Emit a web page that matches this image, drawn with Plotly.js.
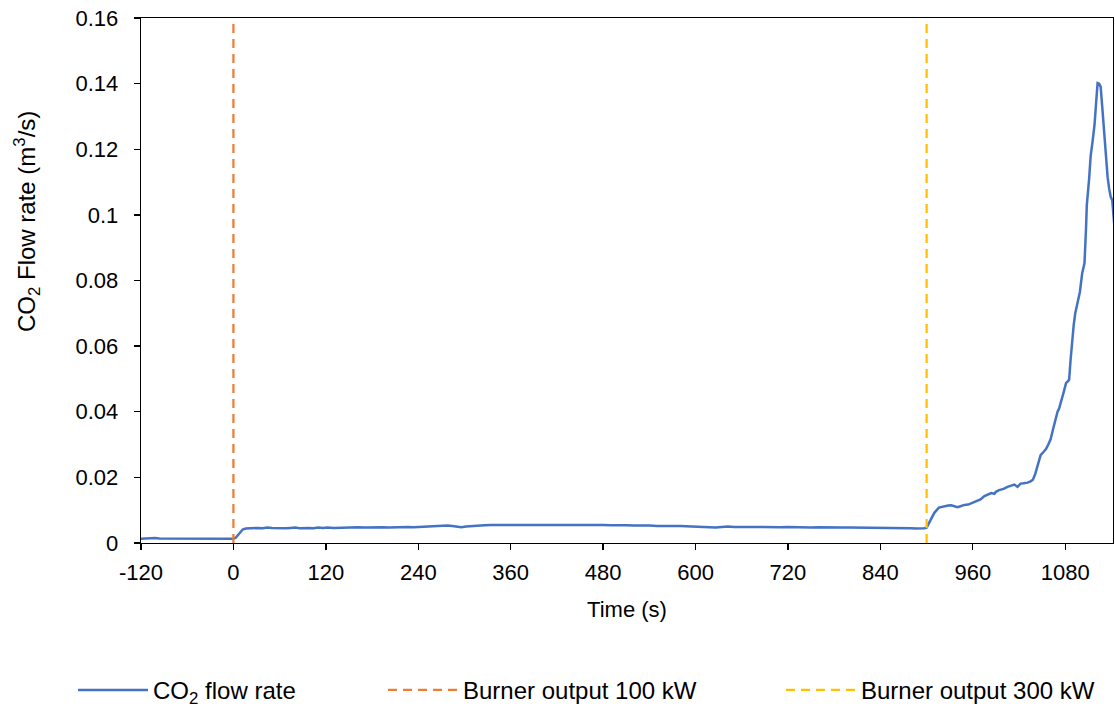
<!DOCTYPE html>
<html>
<head>
<meta charset="utf-8">
<script src="https://cdn.plot.ly/plotly-3.0.1.min.js"></script>
<style>html,body{margin:0;padding:0;background:#fff;}#chart{width:1115px;height:711px;}</style>
</head>
<body>
<div id="chart"></div>
<script>
// Time (s)
const time = [-120,-114,-108,-102,-96,-90,-84,-78,-72,-66,-60,-54,-48,-42,-36,-30,-24,-18,-12,-6,0,
  3,6,9,12,16,20,26,32,38,44,50,56,62,68,74,80,86,92,98,104,110,116,122,130,138,146,154,162,170,178,186,194,202,210,218,226,234,242,250,258,266,272,278,284,290,296,302,310,318,326,334,342,350,360,370,380,390,400,410,420,430,440,450,460,470,480,490,500,510,520,530,540,550,560,570,580,590,600,610,618,626,634,642,650,660,670,680,690,700,710,720,730,740,750,760,770,780,790,800,810,820,830,840,850,860,870,880,886,892,897,900,
  905,910,916,922,928,932,936,940,944,949,954,958,962,966,970,975,980,984,988,990,994,1000,1005,1010,1014,1018,1022,1026,1031,1035,1038,1041,1044,1048,1052,1055,1058,1061,1064,1066,1068,1070,1072,1075,1078,1081,1083,1085,1087,1089,1091,1093,1096,1099,1102,1105,1107,1108,1111,1113,1115,1118,1120,1122,1124,1126,1128,1131,1133,1135,1137,1139,1141,1144];
// CO2 flow rate (m3/s)
const co2Flow = [0.0013,0.0014,0.0013,0.0015,0.0014,0.0014,0.0013,0.0014,0.0012,0.0013,0.0012,0.0014,0.0013,0.0012,0.0014,0.0013,0.0014,0.0013,0.0012,0.0014,0.0013,
  0.0016,0.0025,0.0035,0.0041,0.0044,0.0045,0.0046,0.0046,0.0045,0.0047,0.0046,0.0045,0.0046,0.0045,0.0046,0.0047,0.0045,0.0046,0.0046,0.0045,0.0047,0.0046,0.0047,0.0046,0.0047,0.0048,0.0047,0.0048,0.0047,0.0048,0.0047,0.0048,0.0047,0.0048,0.0048,0.0049,0.0048,0.0049,0.0049,0.0050,0.0052,0.0054,0.0053,0.0052,0.0049,0.0048,0.0050,0.0052,0.0054,0.0054,0.0055,0.0054,0.0055,0.0055,0.0055,0.0056,0.0056,0.0056,0.0056,0.0057,0.0056,0.0056,0.0056,0.0056,0.0056,0.0055,0.0054,0.0055,0.0054,0.0053,0.0054,0.0053,0.0052,0.0053,0.0052,0.0052,0.0051,0.0052,0.0050,0.0048,0.0047,0.0049,0.0050,0.0049,0.0048,0.0049,0.0049,0.0048,0.0049,0.0048,0.0049,0.0048,0.0049,0.0047,0.0048,0.0047,0.0047,0.0047,0.0047,0.0047,0.0047,0.0046,0.0047,0.0047,0.0047,0.0046,0.0045,0.0044,0.0044,0.0045,0.0047,
  0.0070,0.0092,0.0108,0.0112,0.0114,0.0115,0.0113,0.0109,0.0112,0.0116,0.0117,0.0121,0.0126,0.0131,0.0133,0.0143,0.0148,0.0152,0.0150,0.0156,0.0161,0.0165,0.0171,0.0174,0.0178,0.0171,0.0181,0.0182,0.0184,0.0188,0.0193,0.0210,0.0238,0.0268,0.0278,0.0286,0.0300,0.0316,0.0345,0.0362,0.0385,0.0400,0.0410,0.0440,0.0460,0.0487,0.0492,0.0497,0.0560,0.0619,0.0665,0.0700,0.0731,0.0765,0.0822,0.0853,0.0960,0.1030,0.1110,0.1180,0.1215,0.1274,0.1340,0.1402,0.1400,0.1390,0.1330,0.1240,0.1170,0.1115,0.1080,0.1055,0.1045,0.0960];
// Burner output change times (s)
const burner100Time = [0, 0];
const burner300Time = [900, 900];
const markerSpan = [0, 0.16];
const seriesNames = ['CO<sub>2</sub> flow rate', 'Burner output 100 kW', 'Burner output 300 kW'];
const xTicks = [-120,0,120,240,360,480,600,720,840,960,1080];
const xTickLabels = ['-120','0','120','240','360','480','600','720','840','960','1080'];
const yTicks = [0,0.02,0.04,0.06,0.08,0.1,0.12,0.14,0.16];
const yTickLabels = ['0','0.02','0.04','0.06','0.08','0.1','0.12','0.14','0.16'];
const xTitle = 'Time (s)';
const yTitle = 'CO<sub>2</sub> Flow rate (m<sup>3</sup>/s)';

const FONT = 'Liberation Sans, Arial, sans-serif';
const traces = [
  {x: time, y: co2Flow, type: 'scatter', mode: 'lines', name: seriesNames[0],
   line: {color: '#4472C4', width: 2.5}, legend: 'legend'},
  {x: burner100Time, y: markerSpan, type: 'scatter', mode: 'lines', name: seriesNames[1],
   line: {color: '#ED7D31', width: 2.25, dash: '9px,6px'}, legend: 'legend2'},
  {x: burner300Time, y: markerSpan, type: 'scatter', mode: 'lines', name: seriesNames[2],
   line: {color: '#FFC000', width: 2.25, dash: '9px,6px'}, legend: 'legend3'}
];
const legBase = {orientation: 'h', yref: 'container', xref: 'container', yanchor: 'middle', xanchor: 'left',
  y: 0.029, font: {family: FONT, size: 24, color: '#000'}, bgcolor: 'rgba(0,0,0,0)', itemwidth: 70};
const layout = {
  width: 1115, height: 711,
  margin: {l: 141, r: 2, t: 18, b: 168},
  paper_bgcolor: '#fff', plot_bgcolor: '#fff',
  font: {family: FONT, size: 22, color: '#000'},
  showlegend: true,
  xaxis: {range: [-120, 1142], tickvals: xTicks, ticktext: xTickLabels, ticks: 'outside', ticklen: 6, tickwidth: 1.3, tickcolor: '#000',
    showline: true, linecolor: '#000', linewidth: 1.3, mirror: true, showgrid: false, zeroline: false,
    tickfont: {family: FONT, size: 22, color: '#000'}, ticklabelstandoff: 3,
    title: {text: xTitle, font: {family: FONT, size: 22, color: '#000'}, standoff: 18}},
  yaxis: {range: [0, 0.16], tickvals: yTicks, ticktext: yTickLabels, ticks: 'outside', ticklen: 6, tickwidth: 1.3, tickcolor: '#000',
    showline: true, linecolor: '#000', linewidth: 1.3, mirror: true, showgrid: false, zeroline: false,
    tickfont: {family: FONT, size: 22, color: '#000'}, ticklabelstandoff: 11},
  annotations: [{text: yTitle, textangle: -90, xref: 'paper', yref: 'paper', x: -0.118, y: 0.612,
    xanchor: 'center', yanchor: 'middle', showarrow: false, font: {family: FONT, size: 24, color: '#000'}}],
  legend: Object.assign({}, legBase, {x: 0.0655}),
  legend2: Object.assign({}, legBase, {x: 0.3435}),
  legend3: Object.assign({}, legBase, {x: 0.7004})
};
Plotly.newPlot('chart', traces, layout, {displayModeBar: false, staticPlot: true});
</script>
</body>
</html>
